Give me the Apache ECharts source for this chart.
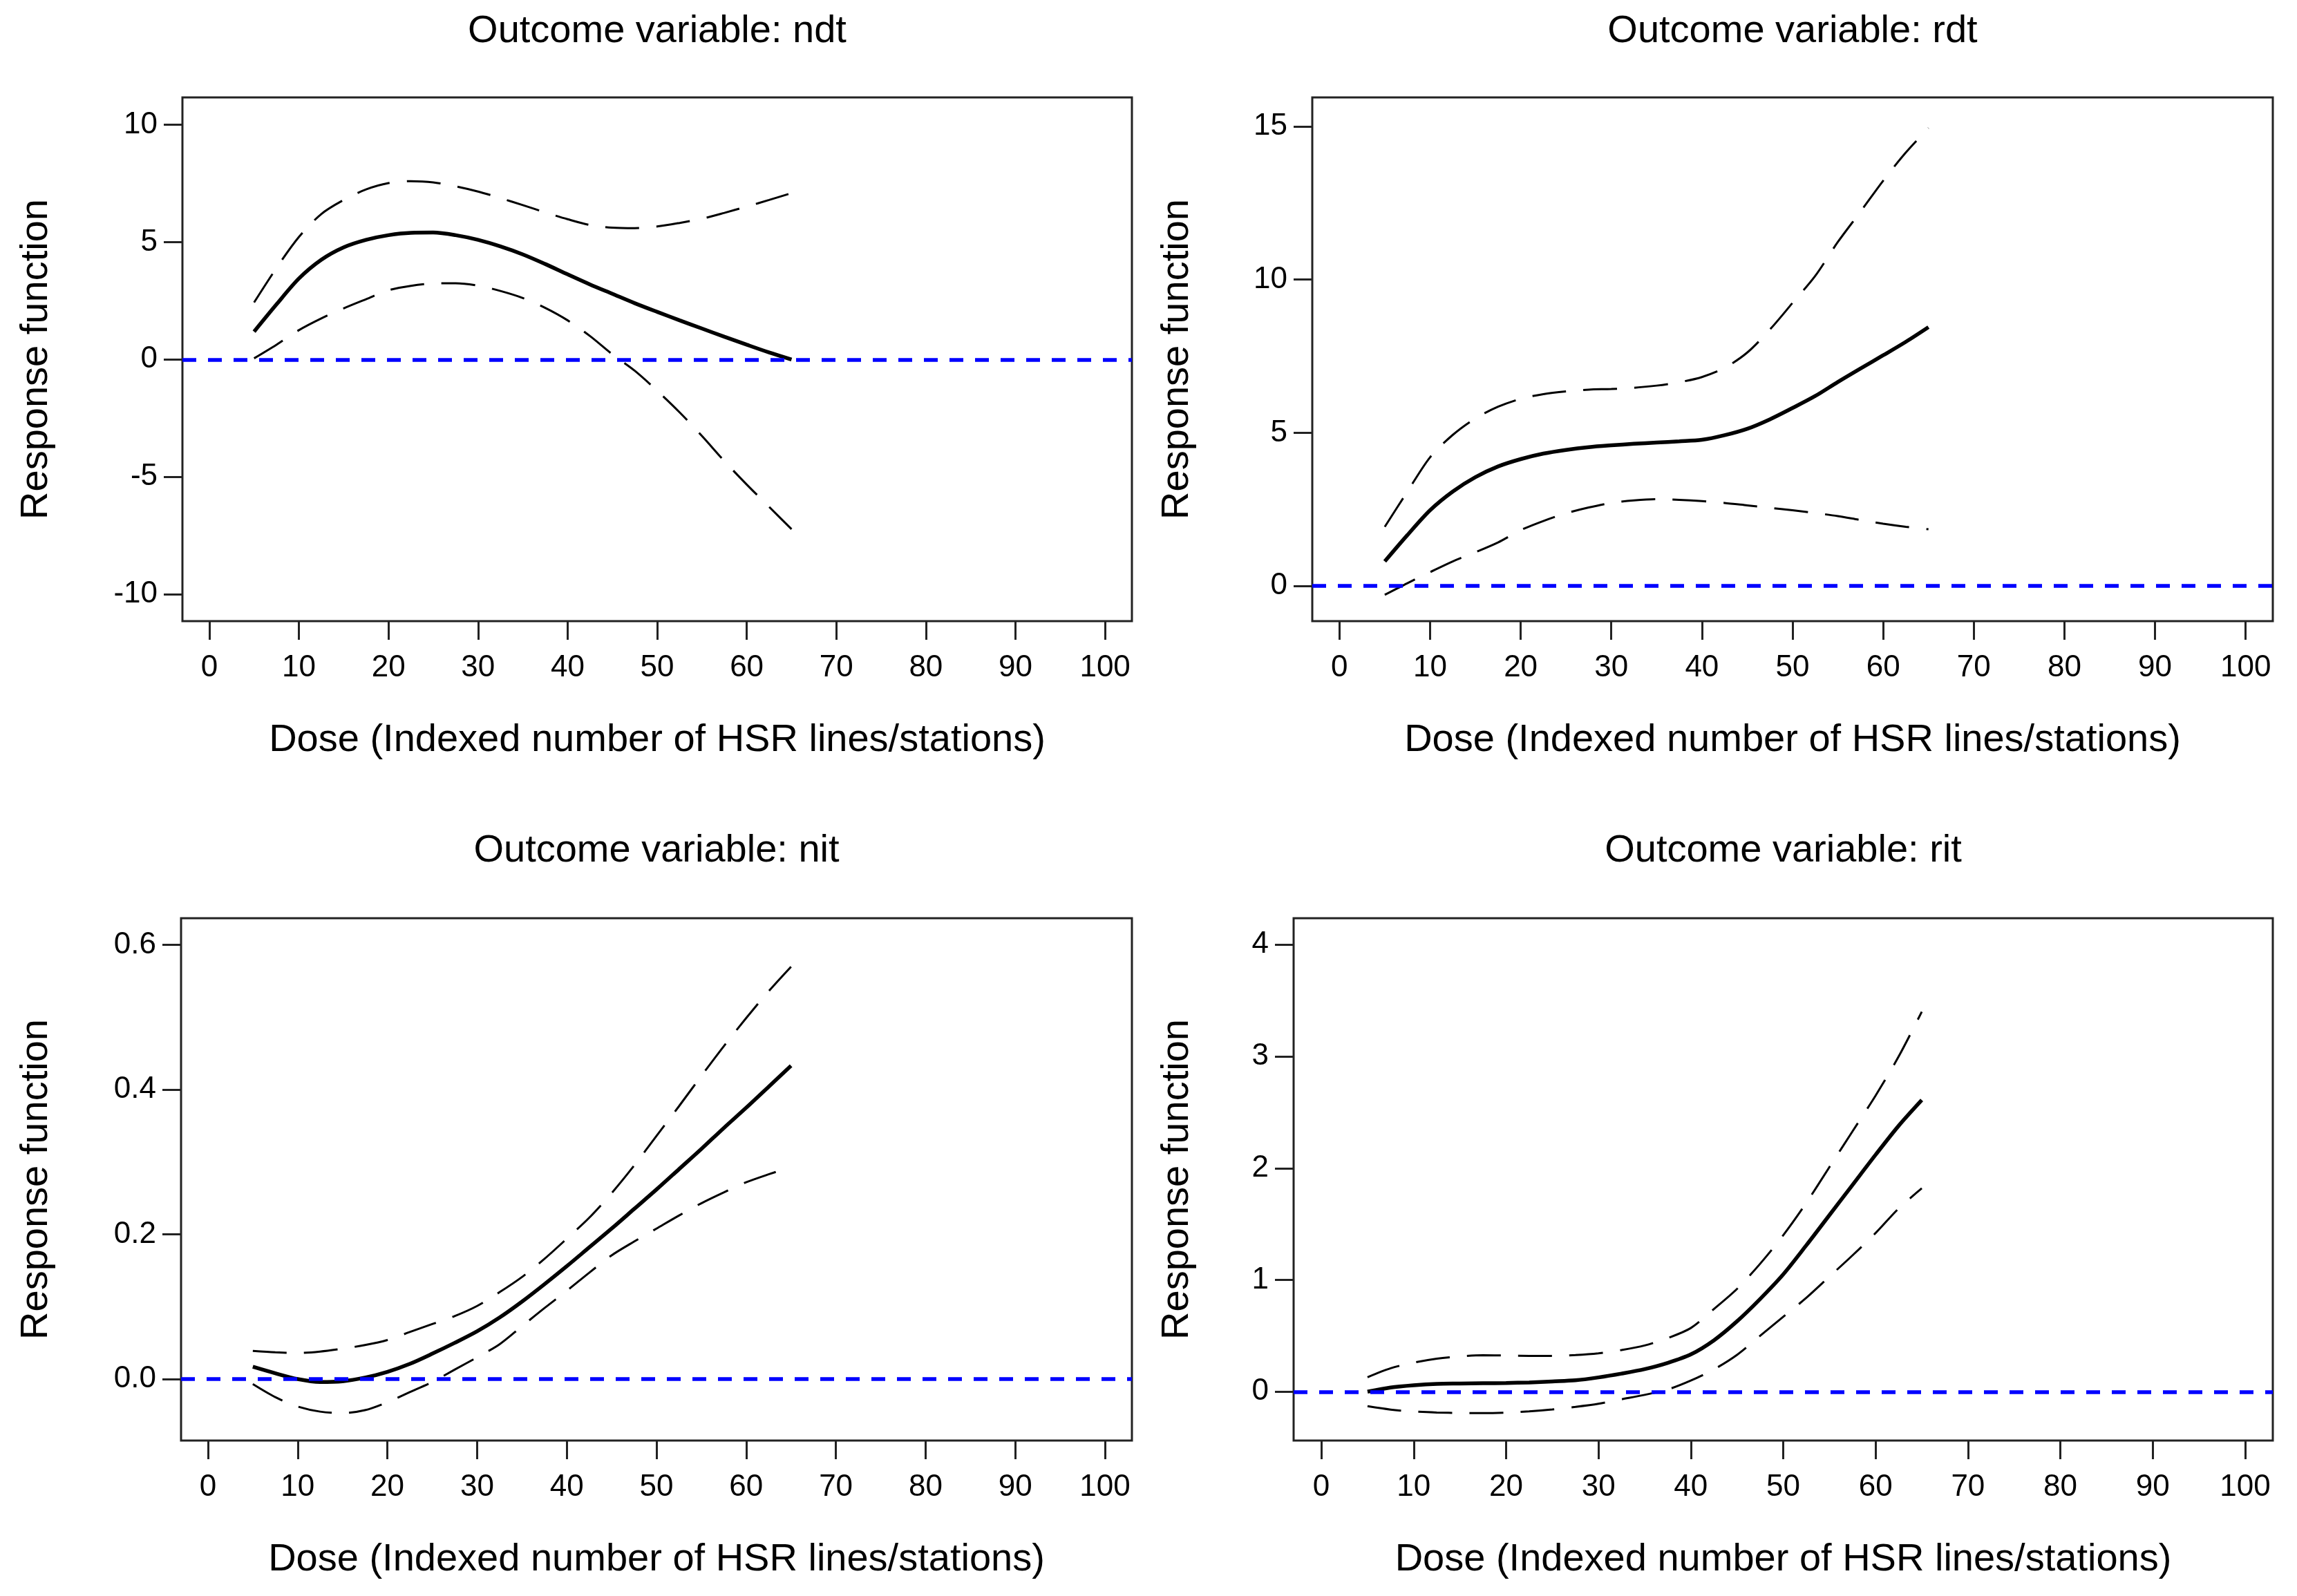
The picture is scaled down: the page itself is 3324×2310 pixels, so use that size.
<!DOCTYPE html>
<html>
<head>
<meta charset="utf-8">
<script src="https://cdn.jsdelivr.net/npm/echarts@6/dist/echarts.min.js"></script>
<style>
html,body{margin:0;padding:0;background:#fff;}
#chart{width:3324px;height:2310px;}
</style>
</head>
<body>
<div id="chart"></div>
<script>
// ---------- data ----------
const dose = [5, 7.5, 10, 12.5, 15, 17.5, 20, 22.5, 25, 27.5, 30, 32.5, 35, 37.5, 40, 42.5, 45, 47.5, 50, 52.5, 55, 57.5, 60, 62.5, 65];

const ndtEst   = [1.19, 2.35, 3.45, 4.25, 4.78, 5.10, 5.30, 5.40, 5.41, 5.30, 5.10, 4.82, 4.48, 4.07, 3.63, 3.20, 2.80, 2.40, 2.03, 1.67, 1.32, 0.97, 0.63, 0.30, 0.00];
const ndtUpper = [2.43, 3.90, 5.22, 6.20, 6.80, 7.25, 7.52, 7.60, 7.55, 7.38, 7.16, 6.88, 6.58, 6.27, 5.98, 5.73, 5.62, 5.60, 5.67, 5.82, 6.00, 6.25, 6.52, 6.80, 7.09];
const ndtLower = [0.05, 0.63, 1.25, 1.75, 2.18, 2.57, 2.95, 3.14, 3.24, 3.25, 3.15, 2.92, 2.62, 2.20, 1.67, 1.00, 0.22, -0.48, -1.33, -2.25, -3.26, -4.33, -5.33, -6.28, -7.23];

const rdtEst   = [0.80, 1.66, 2.47, 3.08, 3.55, 3.90, 4.14, 4.32, 4.44, 4.53, 4.59, 4.64, 4.68, 4.72, 4.77, 4.92, 5.13, 5.44, 5.81, 6.20, 6.66, 7.10, 7.53, 7.97, 8.45];
const rdtUpper = [1.93, 3.08, 4.20, 4.93, 5.47, 5.85, 6.11, 6.26, 6.35, 6.41, 6.43, 6.47, 6.54, 6.65, 6.82, 7.12, 7.62, 8.37, 9.24, 10.12, 11.23, 12.22, 13.23, 14.15, 14.95];
const rdtLower = [-0.29, 0.09, 0.45, 0.80, 1.10, 1.42, 1.82, 2.12, 2.37, 2.56, 2.71, 2.79, 2.83, 2.81, 2.77, 2.71, 2.63, 2.55, 2.47, 2.38, 2.28, 2.15, 2.03, 1.93, 1.85];

const nitEst   = [0.017, 0.008, 0.000, -0.004, -0.003, 0.002, 0.010, 0.021, 0.035, 0.050, 0.066, 0.085, 0.107, 0.131, 0.156, 0.182, 0.208, 0.235, 0.262, 0.290, 0.318, 0.347, 0.375, 0.404, 0.433];
const nitUpper = [0.039, 0.037, 0.036, 0.038, 0.042, 0.047, 0.054, 0.065, 0.076, 0.087, 0.101, 0.120, 0.141, 0.166, 0.194, 0.223, 0.257, 0.295, 0.336, 0.377, 0.419, 0.460, 0.499, 0.536, 0.570];
const nitLower = [-0.007, -0.025, -0.038, -0.045, -0.047, -0.043, -0.032, -0.018, -0.004, 0.013, 0.030, 0.048, 0.073, 0.098, 0.122, 0.147, 0.171, 0.190, 0.208, 0.226, 0.243, 0.258, 0.272, 0.283, 0.293];

const ritEst   = [0.000, 0.038, 0.058, 0.070, 0.073, 0.076, 0.078, 0.083, 0.092, 0.102, 0.128, 0.162, 0.202, 0.258, 0.334, 0.46, 0.63, 0.83, 1.05, 1.31, 1.58, 1.85, 2.12, 2.38, 2.61];
const ritUpper = [0.130, 0.21, 0.26, 0.296, 0.316, 0.326, 0.324, 0.321, 0.320, 0.328, 0.344, 0.373, 0.414, 0.48, 0.57, 0.74, 0.92, 1.145, 1.40, 1.69, 2.01, 2.33, 2.65, 3.00, 3.40];
const ritLower = [-0.130, -0.16, -0.177, -0.186, -0.190, -0.191, -0.187, -0.176, -0.159, -0.136, -0.108, -0.068, -0.028, 0.02, 0.10, 0.20, 0.33, 0.50, 0.67, 0.84, 1.03, 1.22, 1.42, 1.64, 1.82];

const xTicks   = [0, 10, 20, 30, 40, 50, 60, 70, 80, 90, 100];
const ndtTicks = [-10, -5, 0, 5, 10];
const rdtTicks = [0, 5, 10, 15];
const nitTicks = [0, 0.2, 0.4, 0.6];
const ritTicks = [0, 1, 2, 3, 4];

const titles = ['Outcome variable: ndt', 'Outcome variable: rdt', 'Outcome variable: nit', 'Outcome variable: rit'];
const xName = 'Dose (Indexed number of HSR lines/stations)';
const yName = 'Response function';

// ---------- layout ----------
const FONT = '"Liberation Sans", Arial, Helvetica, sans-serif';
const panels = [
  {grid:{left:264, top:141, width:1374, height:758}, ymin:-11.15, ymax:11.17, ticks:ndtTicks, dec:0, est:ndtEst, up:ndtUpper, lo:ndtLower, titleY:46, xNameY:1072, yNameX:53},
  {grid:{left:1899, top:141, width:1390, height:758}, ymin:-1.15, ymax:15.95, ticks:rdtTicks, dec:0, est:rdtEst, up:rdtUpper, lo:rdtLower, titleY:46, xNameY:1072, yNameX:1704},
  {grid:{left:262, top:1329, width:1376, height:756}, ymin:-0.085, ymax:0.637, ticks:nitTicks, dec:1, est:nitEst, up:nitUpper, lo:nitLower, titleY:1232, xNameY:2258, yNameX:53},
  {grid:{left:1872, top:1329, width:1417, height:756}, ymin:-0.437, ymax:4.237, ticks:ritTicks, dec:0, est:ritEst, up:ritUpper, lo:ritLower, titleY:1232, xNameY:2258, yNameX:1704}
];

const grids = [], xAxes = [], yAxes = [], series = [], graphics = [];
const AX = '#222';

panels.forEach((p, i) => {
  grids.push(Object.assign({show:true, borderColor:AX, borderWidth:3, backgroundColor:'transparent', containLabel:false}, p.grid));
  xAxes.push({
    type:'value', gridIndex:i, min:-3, max:103, position:'bottom',
    axisLine:{show:false, onZero:false}, splitLine:{show:false},
    axisTick:{show:true, inside:false, length:27, lineStyle:{color:AX, width:3}, customValues:xTicks},
    axisLabel:{show:true, customValues:xTicks, fontSize:44, fontFamily:FONT, color:'#000', margin:46}
  });
  yAxes.push({
    type:'value', gridIndex:i, min:p.ymin, max:p.ymax, position:'left',
    axisLine:{show:false, onZero:false}, splitLine:{show:false},
    axisTick:{show:true, inside:false, length:27, lineStyle:{color:AX, width:3}, customValues:p.ticks},
    axisLabel:{show:true, customValues:p.ticks, fontSize:44, fontFamily:FONT, color:'#000', margin:36,
      formatter:(v) => Number(v).toFixed(p.dec)}
  });
  const pts = arr => dose.map((d, k) => [d, arr[k]]);
  const base = {type:'line', xAxisIndex:i, yAxisIndex:i, showSymbol:false, symbol:'none', smooth:0.3, silent:true, animation:false};
  series.push(Object.assign({}, base, {name:'upper'+i, data:pts(p.up), lineStyle:{color:'#000', width:3, type:[49,25]}}));
  series.push(Object.assign({}, base, {name:'lower'+i, data:pts(p.lo), lineStyle:{color:'#000', width:3, type:[49,25]}}));
  series.push(Object.assign({}, base, {name:'est'+i, data:pts(p.est), lineStyle:{color:'#000', width:5.5}}));
  series.push(Object.assign({}, base, {name:'zero'+i, data:[], z:5,
    markLine:{silent:true, symbol:['none','none'], animation:false, label:{show:false},
      lineStyle:{color:'#0000FF', width:5.5, type:[20,17]}, data:[{yAxis:0}]}}));

  const cx = p.grid.left + p.grid.width / 2;
  const cy = p.grid.top + p.grid.height / 2;
  graphics.push({type:'text', x:cx, y:p.titleY, style:{text:titles[i], font:'56px ' + FONT, fill:'#000', align:'center', verticalAlign:'middle', textAlign:'center', textVerticalAlign:'middle'}});
  graphics.push({type:'text', x:cx, y:p.xNameY, style:{text:xName, font:'56px ' + FONT, fill:'#000', align:'center', verticalAlign:'middle', textAlign:'center', textVerticalAlign:'middle'}});
  graphics.push({type:'text', x:p.yNameX, y:cy, rotation:Math.PI/2, style:{text:yName, font:'56px ' + FONT, fill:'#000', align:'center', verticalAlign:'middle', textAlign:'center', textVerticalAlign:'middle'}});
});

const chart = echarts.init(document.getElementById('chart'), null, {renderer:'canvas'});
chart.setOption({
  animation:false,
  backgroundColor:'#fff',
  grid:grids, xAxis:xAxes, yAxis:yAxes, series:series,
  graphic:graphics
});
</script>
</body>
</html>
